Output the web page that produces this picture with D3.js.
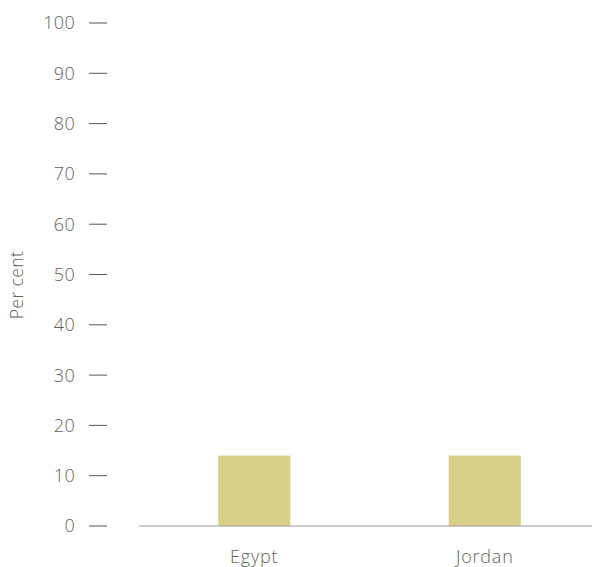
<!DOCTYPE html>
<html>
<head>
<meta charset="utf-8">
<script src="https://cdn.jsdelivr.net/npm/d3@7"></script>
<style>
  html, body { margin: 0; padding: 0; background: #fff; }
  svg { display: block; }
  text { font-family: "Open Sans", Lato, sans-serif; font-weight: 300; }
</style>
</head>
<body>
<svg id="chart" width="592" height="567"></svg>
<script>
const categories = ["Egypt", "Jordan"];
const values = [14, 14];
const yTicks = [0, 10, 20, 30, 40, 50, 60, 70, 80, 90, 100];
const yTitle = "Per cent";

const svg = d3.select("#chart");
const y = d3.scaleLinear().domain([0, 100]).range([526, 23]);
const x = d3.scaleBand().domain(categories).range([139, 600])
  .paddingInner(0.687).paddingOuter(0.3435);

// y ticks
const yg = svg.append("g");
yTicks.forEach(t => {
  yg.append("line")
    .attr("x1", 89).attr("x2", 107)
    .attr("y1", y(t)).attr("y2", y(t))
    .attr("stroke", "#555").attr("stroke-width", 1);
  yg.append("text")
    .attr("x", 75).attr("y", y(t))
    .attr("dy", "0.36em")
    .attr("text-anchor", "end")
    .attr("fill", "#5f5f5f")
    .attr("font-size", 18)
    .attr("letter-spacing", 0.3)
    .text(t);
});

// y title
svg.append("text")
  .attr("transform", "translate(23,285) rotate(-90)")
  .attr("text-anchor", "middle")
  .attr("fill", "#5f5f5f")
  .attr("font-size", 17.5)
  .attr("letter-spacing", 0.4)
  .text(yTitle);

// bars
svg.selectAll("rect.bar").data(categories).join("rect")
  .attr("class", "bar")
  .attr("x", d => x(d))
  .attr("width", x.bandwidth())
  .attr("y", (d, i) => y(values[i]))
  .attr("height", (d, i) => y(0) - y(values[i]))
  .attr("fill", "#d8d087");

// x axis line
svg.append("line")
  .attr("x1", 139).attr("x2", 592)
  .attr("y1", y(0)).attr("y2", y(0))
  .attr("stroke", "#999").attr("stroke-width", 1.2);

// x labels
svg.selectAll("text.xl").data(categories).join("text")
  .attr("class", "xl")
  .attr("x", d => x(d) + x.bandwidth() / 2)
  .attr("y", 563)
  .attr("text-anchor", "middle")
  .attr("fill", "#5f5f5f")
  .attr("font-size", 18)
  .attr("letter-spacing", 0.8)
  .text(d => d);
</script>
</body>
</html>
